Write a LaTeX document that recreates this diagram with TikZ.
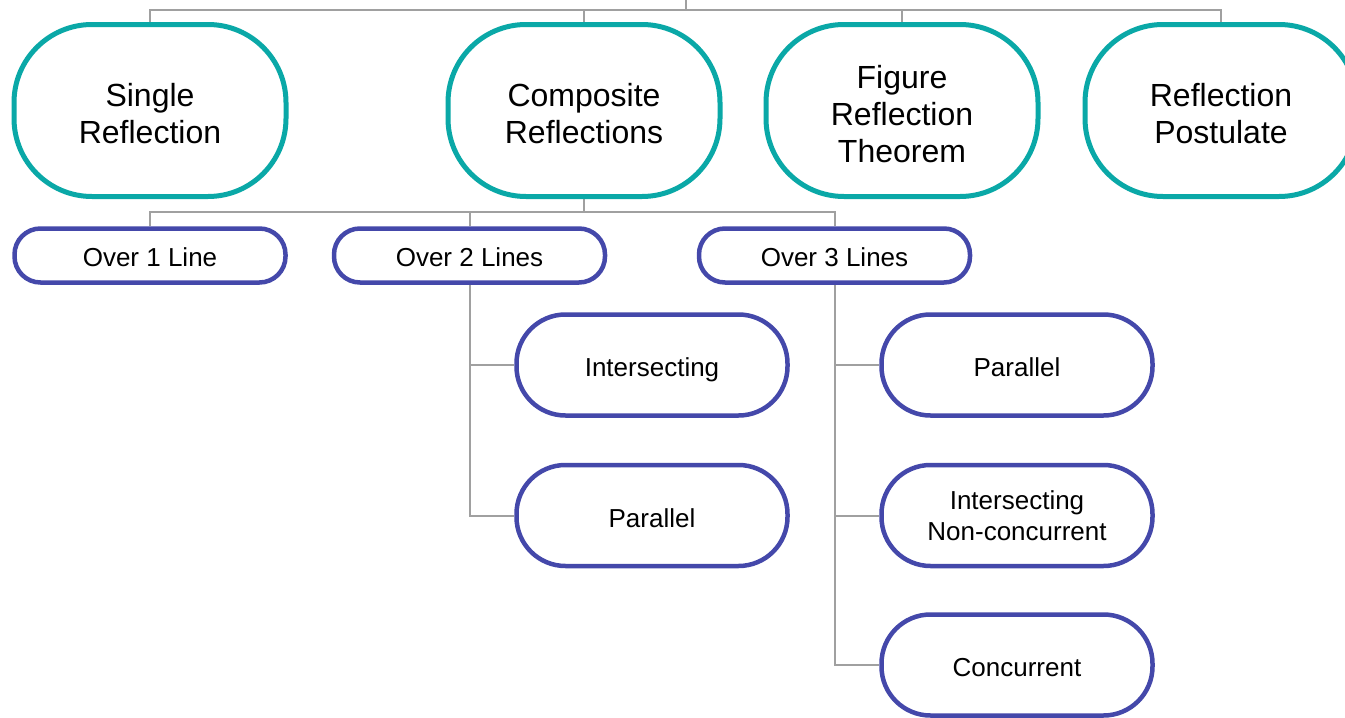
\documentclass[tikz,border=0pt]{standalone}
\usepackage{fontspec}
\setmainfont{Liberation Sans}
\usetikzlibrary{backgrounds}
\definecolor{tealline}{RGB}{10,168,167}
\definecolor{indigoline}{RGB}{68,72,170}
\definecolor{conngrey}{RGB}{160,160,160}
\tikzset{
  topbox/.style={draw=tealline, line width=5pt, fill=white, rounded corners=78pt,
    minimum width=272pt, minimum height=172pt, align=center,
    font=\fontsize{32}{37}\selectfont, text=black},
  twoline/.style={text height=66.3pt, text depth=0pt},
  threeline/.style={text height=103.3pt, text depth=0pt},
  midbox/.style={draw=indigoline, line width=4.5pt, fill=white, rounded corners=26pt,
    minimum width=271pt, minimum height=54pt, align=center,
    text height=22pt, text depth=0pt,
    font=\fontsize{26}{31}\selectfont, text=black},
  lowbox/.style={draw=indigoline, line width=4.5pt, fill=white, rounded corners=49pt,
    minimum width=271pt, minimum height=101pt, align=center,
    font=\fontsize{26}{31}\selectfont, text=black},
  oneline/.style={text height=23pt, text depth=0pt},
  conn/.style={draw=conngrey, line width=2pt}
}
\begin{document}
\begin{tikzpicture}[x=1pt,y=-1pt]
\useasboundingbox (0,0) rectangle (1345,718);
\clip (0,0) rectangle (1345,718);

% top level
\node[topbox, twoline] (single) at (150,110.5) {Single\\Reflection};
\node[topbox, twoline] (comp) at (584,110.5) {Composite\\Reflections};
\node[topbox, threeline] (fig) at (902,110.5) {Figure\\Reflection\\Theorem};
\node[topbox, twoline] (post) at (1221,110.5) {Reflection\\Postulate};

% second level
\node[midbox] (o1) at (150,255.5) {Over 1 Line};
\node[midbox] (o2) at (469.5,255.5) {Over 2 Lines};
\node[midbox] (o3) at (834.5,255.5) {Over 3 Lines};

% third level
\node[lowbox, oneline] (i2) at (652,365) {Intersecting};
\node[lowbox, oneline] (p2) at (652,515.5) {Parallel};
\node[lowbox, oneline] (p3) at (1017,365) {Parallel};
\node[lowbox] (n3) at (1017,515.5) {Intersecting\\Non-concurrent};
\node[lowbox, oneline] (c3) at (1017,665) {Concurrent};

\coordinate (root) at (686,0);
\coordinate (bus1) at (686,10);
\coordinate (bus2) at (584,212);

\begin{pgfonlayer}{background}
\fill[white] (0,0) rectangle (1345,718);
\draw[conn] (root) -- (bus1);
\draw[conn] (single.north) |- (bus1) -| (post.north);
\draw[conn] (comp.north) -- (comp.north |- bus1);
\draw[conn] (fig.north) -- (fig.north |- bus1);

\draw[conn] (comp.south) -- (bus2);
\draw[conn] (o1.north) |- (bus2) -| (o3.north);
\draw[conn] (o2.north) -- (o2.north |- bus2);

\draw[conn] (o2.south) |- (i2.west);
\draw[conn] (o2.south) |- (p2.west);
\draw[conn] (o3.south) |- (p3.west);
\draw[conn] (o3.south) |- (n3.west);
\draw[conn] (o3.south) |- (c3.west);
\end{pgfonlayer}
\end{tikzpicture}
\end{document}
